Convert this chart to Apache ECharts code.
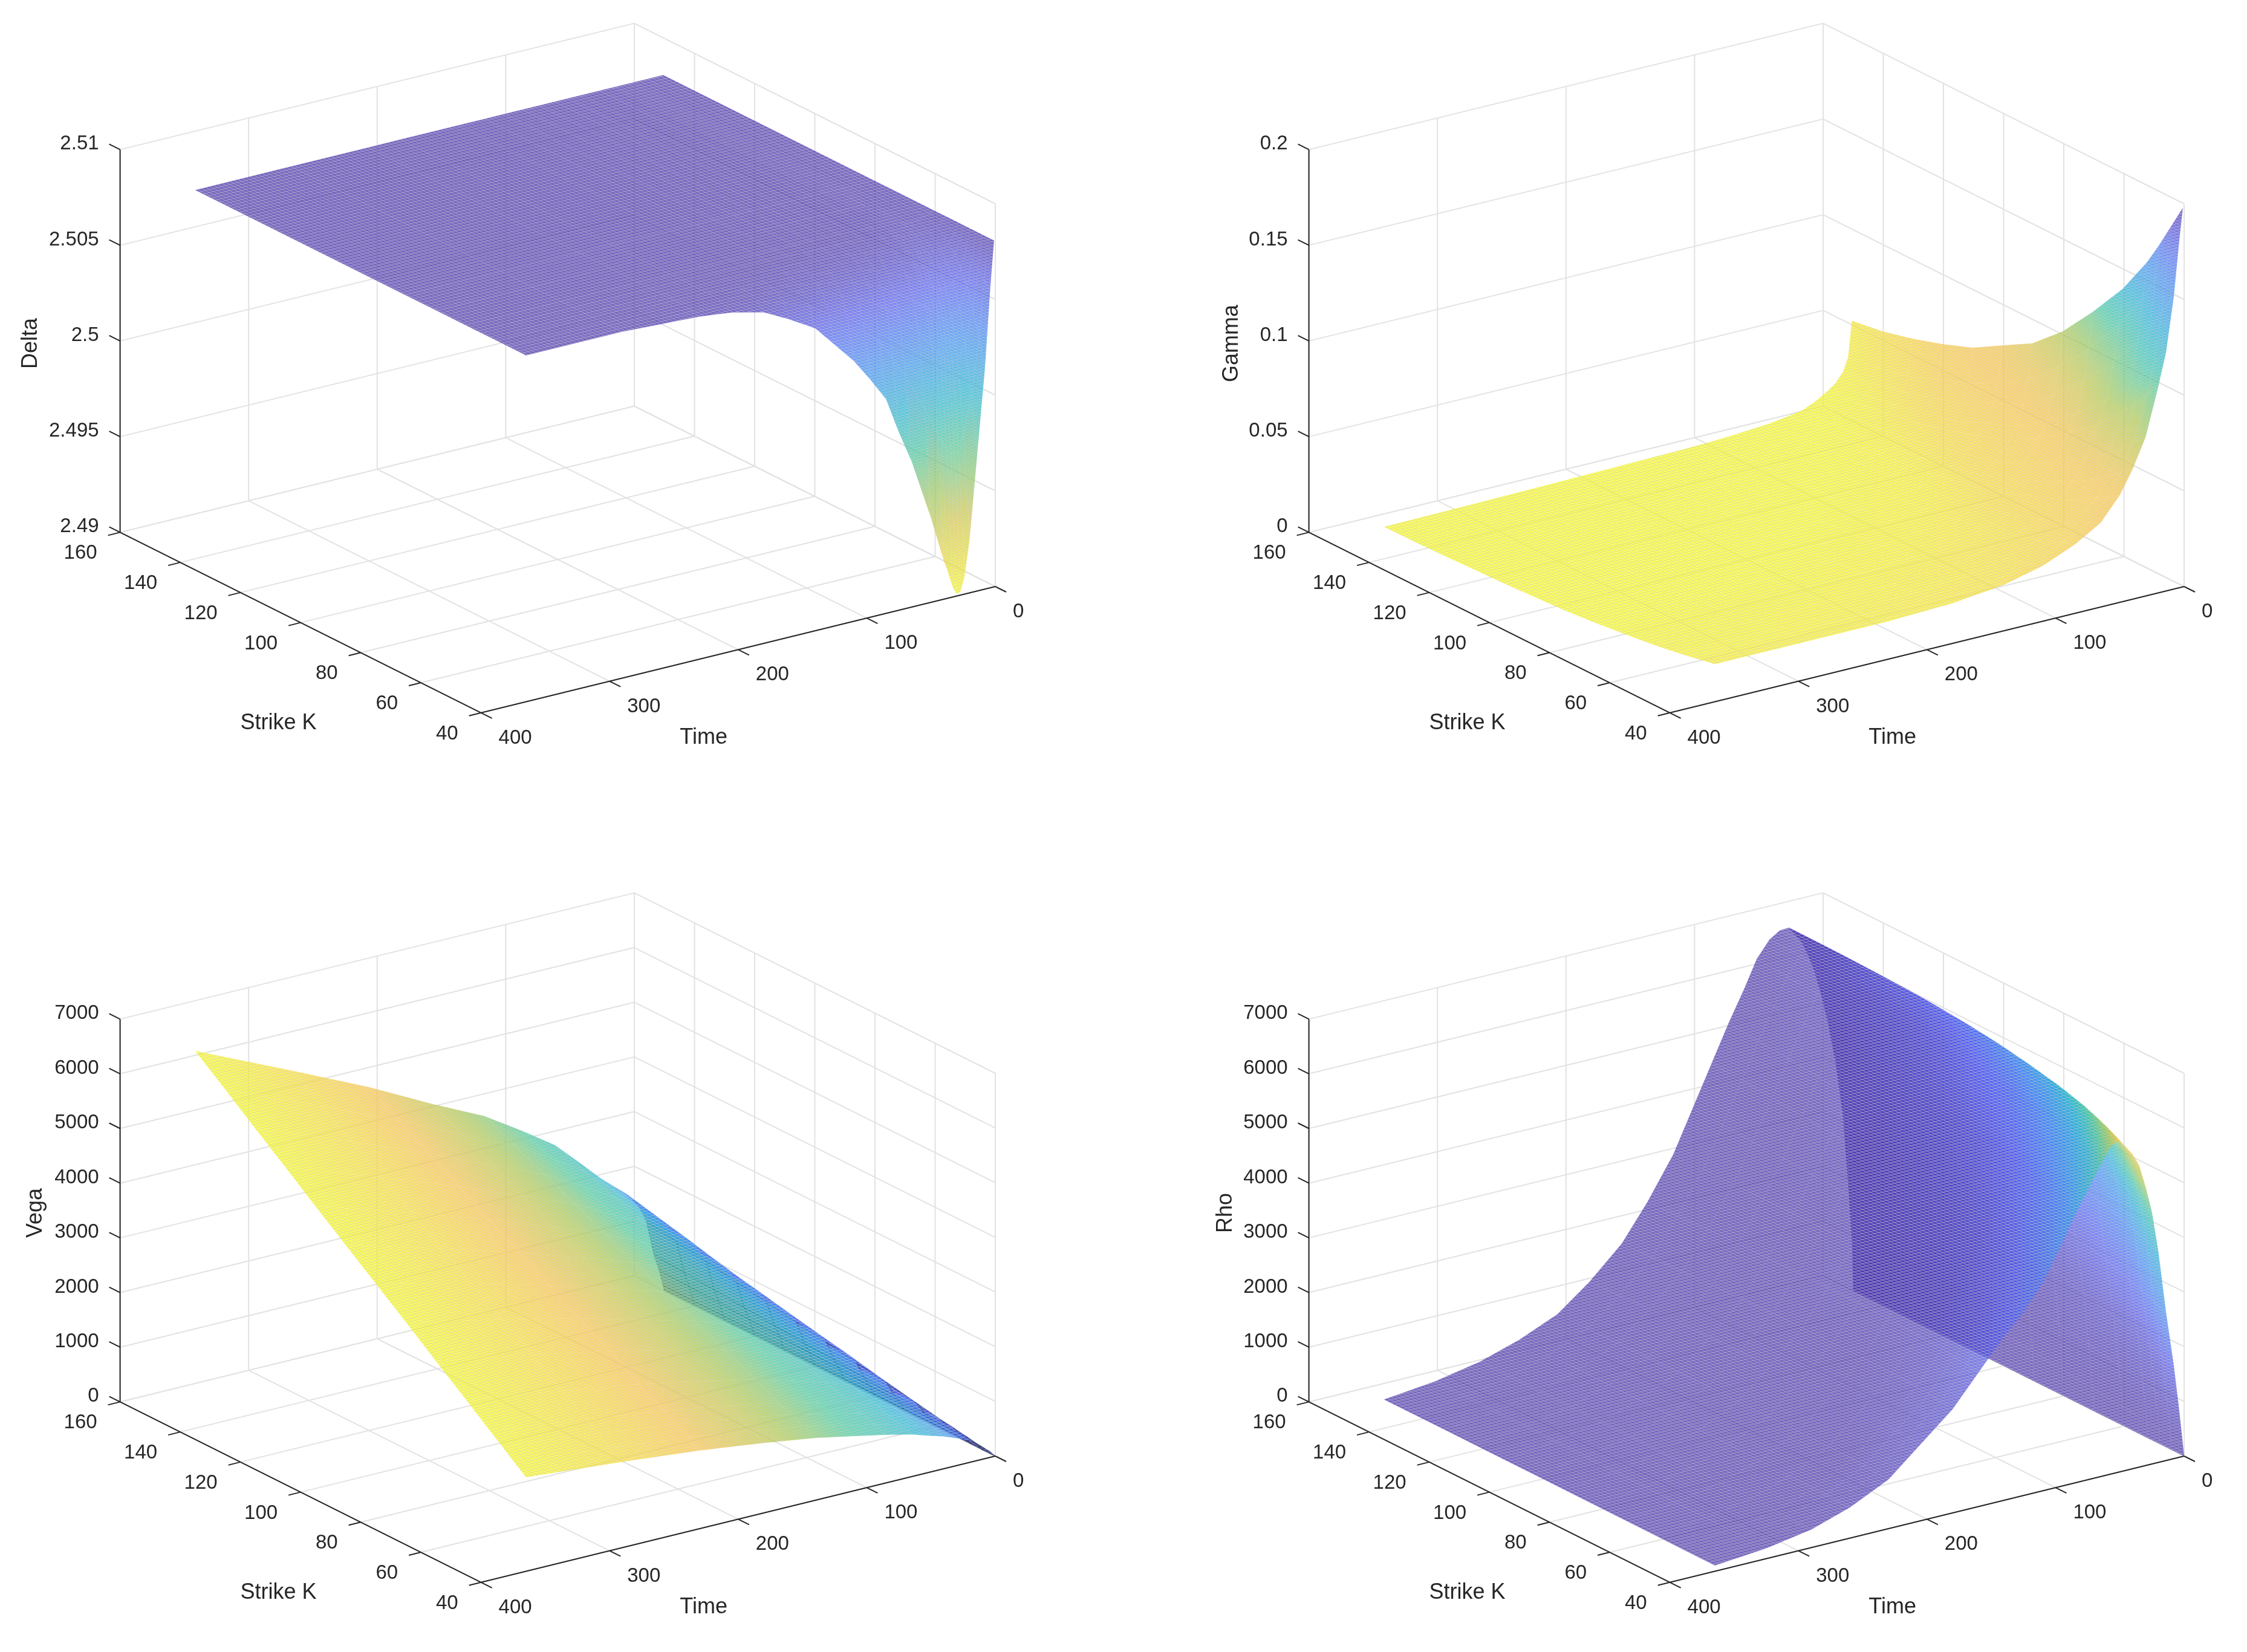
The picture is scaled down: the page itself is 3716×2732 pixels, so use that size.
<!DOCTYPE html>
<html>
<head>
<meta charset="utf-8">
<title>Option Greeks</title>
<script src="https://cdn.jsdelivr.net/npm/echarts@6/dist/echarts.min.js"></script>
<style>
  html, body { margin: 0; background: #fff; }
  #chart { width: 3716px; height: 2732px; }
</style>
</head>
<body>
<div id="chart"></div>
<script>
// sampling of the surfaces
const timeSamples = [1, 4, 8, 14, 20, 30, 40, 50, 65, 85, 110, 140, 180, 230, 290, 365];
const vegaTimes = [0, 1, 4, 8, 14, 20, 30, 40, 50, 65, 85, 110, 140, 180, 230, 290, 365];
const rhoTimes = [0, 1, 4, 8, 14, 20, 25, 30, 35, 40, 50, 57, 65, 75, 85, 97, 110, 125, 140, 160, 180, 205, 230, 260, 290, 325, 365];
const deltaTimes = [1, 4, 8, 14, 20, 24, 27, 30, 33, 37, 40, 50, 65, 75, 85, 97, 110, 125, 140, 160, 180, 205, 230, 290, 365];
const strikeSamples = [40, 44, 48, 52, 60, 70, 80, 90, 100, 110, 120, 130, 140, 150];
const deltaStrikes = [40, 42, 44, 46, 48, 50, 52, 56, 60, 70, 80, 150];

// tick labels
const timeTicks = [0, 100, 200, 300, 400];
const strikeTicks = [40, 60, 80, 100, 120, 140, 160];
const deltaTicks = [2.49, 2.495, 2.5, 2.505, 2.51];
const gammaTicks = [0, 0.05, 0.1, 0.15, 0.2];
const vegaTicks = [0, 1000, 2000, 3000, 4000, 5000, 6000, 7000];
const rhoTicks = [0, 1000, 2000, 3000, 4000, 5000, 6000, 7000];

// one row per strike, one column per time
const deltaValues = [
  [2.5081, 2.5056, 2.5016, 2.4972, 2.4928, 2.4909, 2.4902, 2.4901, 2.4905, 2.4914, 2.4920, 2.4944, 2.4976, 2.4993, 2.5012, 2.5024, 2.5036, 2.5047, 2.5058, 2.5066, 2.5073, 2.5077, 2.5079, 2.5081, 2.5081],
  [2.5081, 2.5059, 2.5029, 2.5001, 2.4981, 2.4975, 2.4973, 2.4973, 2.4975, 2.4981, 2.4985, 2.4999, 2.5019, 2.5030, 2.5040, 2.5048, 2.5055, 2.5062, 2.5068, 2.5073, 2.5077, 2.5079, 2.5080, 2.5081, 2.5081],
  [2.5081, 2.5063, 2.5043, 2.5026, 2.5019, 2.5018, 2.5019, 2.5021, 2.5023, 2.5027, 2.5029, 2.5037, 2.5048, 2.5054, 2.5059, 2.5063, 2.5067, 2.5071, 2.5074, 2.5077, 2.5079, 2.5080, 2.5080, 2.5081, 2.5081],
  [2.5081, 2.5067, 2.5053, 2.5043, 2.5039, 2.5039, 2.5040, 2.5041, 2.5043, 2.5046, 2.5048, 2.5053, 2.5060, 2.5064, 2.5067, 2.5070, 2.5072, 2.5074, 2.5076, 2.5078, 2.5080, 2.5081, 2.5081, 2.5081, 2.5081],
  [2.5081, 2.5071, 2.5061, 2.5055, 2.5053, 2.5053, 2.5054, 2.5055, 2.5056, 2.5058, 2.5060, 2.5064, 2.5068, 2.5071, 2.5073, 2.5075, 2.5076, 2.5077, 2.5078, 2.5079, 2.5080, 2.5081, 2.5081, 2.5081, 2.5081],
  [2.5081, 2.5074, 2.5067, 2.5063, 2.5062, 2.5063, 2.5064, 2.5064, 2.5065, 2.5066, 2.5067, 2.5070, 2.5073, 2.5075, 2.5076, 2.5077, 2.5078, 2.5078, 2.5079, 2.5080, 2.5081, 2.5081, 2.5081, 2.5081, 2.5081],
  [2.5081, 2.5076, 2.5071, 2.5069, 2.5069, 2.5069, 2.5070, 2.5070, 2.5071, 2.5071, 2.5072, 2.5074, 2.5076, 2.5077, 2.5078, 2.5079, 2.5079, 2.5080, 2.5080, 2.5081, 2.5081, 2.5081, 2.5081, 2.5081, 2.5081],
  [2.5081, 2.5079, 2.5077, 2.5075, 2.5075, 2.5075, 2.5076, 2.5076, 2.5076, 2.5077, 2.5077, 2.5078, 2.5079, 2.5080, 2.5080, 2.5080, 2.5080, 2.5081, 2.5081, 2.5081, 2.5081, 2.5081, 2.5081, 2.5081, 2.5081],
  [2.5081, 2.5080, 2.5079, 2.5078, 2.5078, 2.5078, 2.5079, 2.5079, 2.5079, 2.5079, 2.5079, 2.5080, 2.5080, 2.5081, 2.5081, 2.5081, 2.5081, 2.5081, 2.5081, 2.5081, 2.5081, 2.5081, 2.5081, 2.5081, 2.5081],
  [2.5081, 2.5081, 2.5080, 2.5080, 2.5080, 2.5080, 2.5080, 2.5080, 2.5081, 2.5081, 2.5081, 2.5081, 2.5081, 2.5081, 2.5081, 2.5081, 2.5081, 2.5081, 2.5081, 2.5081, 2.5081, 2.5081, 2.5081, 2.5081, 2.5081],
  [2.5081, 2.5081, 2.5081, 2.5081, 2.5081, 2.5081, 2.5081, 2.5081, 2.5081, 2.5081, 2.5081, 2.5081, 2.5081, 2.5081, 2.5081, 2.5081, 2.5081, 2.5081, 2.5081, 2.5081, 2.5081, 2.5081, 2.5081, 2.5081, 2.5081],
  [2.5081, 2.5081, 2.5081, 2.5081, 2.5081, 2.5081, 2.5081, 2.5081, 2.5081, 2.5081, 2.5081, 2.5081, 2.5081, 2.5081, 2.5081, 2.5081, 2.5081, 2.5081, 2.5081, 2.5081, 2.5081, 2.5081, 2.5081, 2.5081, 2.5081]
];
const gammaValues = [
  [.198, .18, .153, .125, .108, .083, .068, .056, .044, .036, .029, .024, .021, .0198, .0197, .0197],
  [.185, .167, .142, .116, .1, .077, .063, .052, .041, .034, .027, .0225, .0197, .0186, .0184, .0184],
  [.172, .154, .13, .106, .092, .071, .058, .048, .038, .031, .025, .021, .0184, .0173, .0171, .0171],
  [.16, .142, .12, .098, .085, .065, .053, .044, .035, .029, .0234, .0196, .0172, .0162, .016, .0159],
  [.14, .122, .103, .084, .072, .056, .046, .038, .03, .025, .0204, .0172, .0152, .0143, .014, .0138],
  [.12, .101, .085, .069, .06, .046, .038, .032, .0254, .021, .0174, .0148, .0132, .0123, .012, .0118],
  [.102, .084, .07, .057, .049, .038, .031, .026, .021, .0178, .015, .0128, .0114, .0107, .0103, .01],
  [.088, .069, .057, .047, .04, .031, .0254, .022, .0178, .015, .0127, .0111, .01, .0093, .0089, .0085],
  [.079, .06, .05, .0405, .035, .027, .022, .019, .0157, .0135, .0114, .01, .0091, .0085, .008, .0076],
  [.07, .052, .042, .034, .0297, .023, .0187, .0164, .0136, .0118, .01, .009, .0082, .0077, .0072, .0068],
  [.064, .046, .037, .03, .026, .02, .0165, .0146, .0123, .0107, .0092, .0084, .0077, .0071, .0066, .0062],
  [.059, .04, .0325, .0265, .023, .018, .0145, .013, .011, .0097, .0084, .0077, .0071, .0066, .0061, .0056],
  [.055, .0365, .029, .024, .0205, .016, .013, .0118, .01, .009, .0079, .0073, .0067, .0062, .0057, .0052],
  [.0526, .034, .027, .022, .019, .015, .012, .011, .0095, .0085, .0075, .007, .0065, .006, .0055, .005]
];
const vegaValues = [
  [0, 20, 100, 180, 300, 400, 500, 590, 660, 770, 880, 1000, 1140, 1280, 1430, 1570, 1720],
  [0, 20, 110, 200, 340, 450, 550, 650, 720, 840, 960, 1090, 1240, 1390, 1560, 1720, 1890],
  [0, 30, 120, 220, 380, 490, 610, 700, 780, 910, 1050, 1190, 1350, 1510, 1690, 1870, 2070],
  [0, 30, 130, 240, 410, 540, 660, 760, 840, 980, 1130, 1280, 1450, 1630, 1830, 2020, 2240],
  [0, 40, 160, 280, 490, 630, 760, 870, 970, 1120, 1290, 1460, 1660, 1860, 2090, 2320, 2590],
  [0, 40, 180, 320, 590, 740, 900, 1020, 1120, 1300, 1500, 1700, 1920, 2150, 2420, 2700, 3020],
  [0, 50, 210, 370, 680, 860, 1030, 1160, 1280, 1470, 1710, 1930, 2180, 2430, 2750, 3070, 3460],
  [0, 60, 240, 420, 780, 970, 1160, 1300, 1430, 1650, 1910, 2160, 2440, 2720, 3080, 3450, 3890],
  [0, 60, 260, 460, 870, 1080, 1290, 1440, 1580, 1820, 2120, 2390, 2700, 3010, 3400, 3820, 4320],
  [0, 70, 290, 510, 970, 1200, 1420, 1580, 1740, 2000, 2320, 2620, 2960, 3300, 3730, 4200, 4750],
  [0, 80, 320, 560, 1060, 1310, 1550, 1720, 1890, 2170, 2530, 2850, 3220, 3590, 4060, 4570, 5190],
  [0, 90, 350, 610, 1160, 1420, 1690, 1870, 2040, 2350, 2740, 3090, 3480, 3870, 4390, 4950, 5620],
  [0, 90, 370, 650, 1250, 1540, 1820, 2010, 2200, 2520, 2940, 3320, 3740, 4160, 4720, 5320, 6060],
  [0, 100, 400, 700, 1350, 1650, 1950, 2150, 2350, 2700, 3150, 3550, 4000, 4450, 5050, 5700, 6490]
];
const rhoValues = [
  [0, 230, 900, 1700, 2700, 3850, 4600, 5100, 5520, 5750, 6060, 6000, 5700, 5300, 4900, 4350, 3800, 3350, 3000, 2450, 1900, 1400, 900, 560, 330, 190, 105],
  [0, 250, 950, 1780, 2790, 3940, 4700, 5210, 5630, 5870, 6180, 6120, 5820, 5420, 5010, 4450, 3890, 3420, 3050, 2490, 1930, 1420, 920, 570, 330, 190, 105],
  [0, 280, 1000, 1850, 2880, 4030, 4790, 5300, 5720, 5960, 6280, 6220, 5930, 5530, 5110, 4540, 3970, 3490, 3100, 2520, 1950, 1430, 930, 580, 340, 195, 107],
  [0, 310, 1050, 1920, 2960, 4110, 4870, 5380, 5800, 6050, 6370, 6310, 6020, 5620, 5190, 4620, 4040, 3540, 3140, 2550, 1980, 1450, 940, 580, 340, 197, 108],
  [0, 360, 1130, 2050, 3110, 4240, 4990, 5500, 5920, 6180, 6500, 6450, 6160, 5760, 5320, 4750, 4150, 3630, 3200, 2580, 2000, 1460, 950, 590, 350, 200, 110],
  [0, 420, 1240, 2200, 3270, 4380, 5100, 5620, 6040, 6290, 6620, 6570, 6300, 5900, 5460, 4880, 4270, 3710, 3240, 2610, 2010, 1460, 950, 600, 360, 205, 113],
  [0, 480, 1340, 2350, 3420, 4500, 5210, 5720, 6130, 6380, 6720, 6670, 6420, 6030, 5580, 4990, 4380, 3790, 3280, 2630, 2010, 1460, 950, 610, 360, 210, 114],
  [0, 540, 1450, 2490, 3570, 4600, 5290, 5790, 6190, 6450, 6790, 6750, 6510, 6140, 5670, 5090, 4460, 3850, 3300, 2630, 2010, 1460, 950, 610, 370, 210, 115],
  [0, 600, 1540, 2620, 3700, 4690, 5350, 5850, 6240, 6510, 6840, 6810, 6590, 6220, 5750, 5160, 4540, 3900, 3320, 2630, 2000, 1440, 950, 610, 380, 220, 116],
  [0, 670, 1640, 2760, 3830, 4780, 5410, 5900, 6270, 6540, 6880, 6850, 6650, 6300, 5810, 5240, 4600, 3940, 3320, 2620, 1990, 1430, 940, 610, 380, 220, 117],
  [0, 730, 1730, 2880, 3950, 4850, 5450, 5930, 6290, 6560, 6900, 6880, 6690, 6350, 5870, 5290, 4660, 3970, 3320, 2610, 1970, 1410, 930, 610, 380, 220, 117],
  [0, 780, 1830, 3010, 4070, 4920, 5490, 5960, 6310, 6580, 6915, 6895, 6740, 6410, 5920, 5350, 4710, 4000, 3310, 2590, 1940, 1400, 920, 610, 380, 220, 118],
  [0, 850, 1910, 3130, 4180, 4990, 5530, 5980, 6320, 6590, 6925, 6910, 6770, 6450, 5960, 5400, 4760, 4020, 3310, 2570, 1930, 1370, 910, 600, 380, 220, 118],
  [0, 900, 2000, 3250, 4300, 5050, 5560, 6000, 6330, 6600, 6930, 6920, 6800, 6500, 6000, 5450, 4800, 4050, 3300, 2550, 1900, 1350, 900, 600, 380, 220, 115]
];

// colour index into the colormap stops (0 = violet, 7 = yellow), one row per strike, one column per timeSamples entry
const gammaColor = [
  [0, 1, 2, 3, 4, 5, 5.7, 6, 6, 6.2, 6.3, 6.5, 6.7, 6.8, 6.8, 6.8],
  [.7, 1.5, 2.5, 3.5, 4.5, 5.3, 5.8, 6, 6.1, 6.3, 6.4, 6.6, 6.7, 6.8, 6.8, 6.8],
  [1.5, 2.2, 3, 4, 4.8, 5.5, 5.9, 6.1, 6.2, 6.3, 6.5, 6.6, 6.7, 6.8, 6.9, 6.9],
  [2, 2.8, 3.6, 4.4, 5, 5.7, 6, 6.1, 6.2, 6.4, 6.5, 6.7, 6.8, 6.8, 6.9, 6.9],
  [3, 3.8, 4.5, 5, 5.5, 5.9, 6.1, 6.2, 6.3, 6.5, 6.6, 6.7, 6.8, 6.9, 6.9, 6.9],
  [4.2, 4.8, 5.3, 5.7, 5.9, 6.1, 6.2, 6.3, 6.4, 6.6, 6.7, 6.8, 6.9, 6.9, 6.9, 7],
  [5, 5.5, 5.8, 6, 6.1, 6.2, 6.3, 6.4, 6.5, 6.7, 6.8, 6.9, 6.9, 7, 7, 7],
  [5.6, 5.9, 6, 6.1, 6.2, 6.3, 6.4, 6.5, 6.7, 6.8, 6.9, 6.9, 7, 7, 7, 7],
  [5.9, 6, 6.1, 6.2, 6.3, 6.4, 6.5, 6.7, 6.8, 6.9, 6.9, 7, 7, 7, 7, 7],
  [6, 6.1, 6.2, 6.3, 6.4, 6.5, 6.7, 6.8, 6.9, 6.9, 7, 7, 7, 7, 7, 7],
  [6.1, 6.2, 6.3, 6.4, 6.5, 6.7, 6.8, 6.9, 6.9, 7, 7, 7, 7, 7, 7, 7],
  [6.3, 6.4, 6.5, 6.6, 6.7, 6.8, 6.9, 6.9, 7, 7, 7, 7, 7, 7, 7, 7],
  [6.5, 6.6, 6.7, 6.8, 6.9, 6.9, 7, 7, 7, 7, 7, 7, 7, 7, 7, 7],
  [6.8, 6.8, 6.9, 6.9, 7, 7, 7, 7, 7, 7, 7, 7, 7, 7, 7, 7]
];
const rhoColor = [
  [0, .4, 1, 2, 3, 5, 6.5, 6, 4, 2.5, 1.5, 1, .5, .2, 0, 0],
  [0, .3, .8, 1.6, 2.6, 4.3, 5.5, 5.2, 3.3, 2, 1.3, .8, .4, .1, 0, 0],
  [0, .2, .6, 1.3, 2.2, 3.5, 4.5, 4.4, 2.8, 1.7, 1.1, .6, .3, .1, 0, 0],
  [0, .2, .5, 1.1, 1.8, 3, 3.8, 3.8, 2.4, 1.4, .9, .5, .2, 0, 0, 0],
  [0, .1, .4, .9, 1.5, 2.3, 2.9, 2.9, 1.8, 1, .6, .3, .1, 0, 0, 0],
  [0, .1, .3, .7, 1.2, 1.8, 2.2, 2.2, 1.3, .7, .4, .2, 0, 0, 0, 0],
  [0, .1, .2, .6, 1, 1.5, 1.8, 1.7, 1, .5, .3, .1, 0, 0, 0, 0],
  [0, 0, .2, .5, .8, 1.2, 1.4, 1.3, .7, .4, .2, .1, 0, 0, 0, 0],
  [0, 0, .1, .4, .7, 1, 1.1, 1, .5, .3, .1, 0, 0, 0, 0, 0],
  [0, 0, .1, .3, .5, .8, .9, .8, .4, .2, .1, 0, 0, 0, 0, 0],
  [0, 0, .1, .2, .4, .6, .7, .6, .3, .1, 0, 0, 0, 0, 0, 0],
  [0, 0, 0, .1, .3, .4, .5, .4, .2, .1, 0, 0, 0, 0, 0, 0],
  [0, 0, 0, .1, .2, .3, .3, .2, .1, 0, 0, 0, 0, 0, 0, 0],
  [0, 0, 0, 0, .1, .2, .2, .1, 0, 0, 0, 0, 0, 0, 0, 0]
];
// vega is coloured along time only
const vegaColorByTime = [0, .2, .5, .9, 1.3, 1.9, 2.4, 2.8, 3.2, 3.6, 4, 4.6, 5.3, 6, 6.5, 7];

const colorStops = [
  [62, 38, 168], [72, 82, 244], [46, 135, 247], [18, 177, 214],
  [55, 200, 151], [171, 199, 57], [254, 195, 56], [249, 251, 21]
];

// screen vectors of the 3d box, in px
const timeVec = [-850.4, 208.8];
const strikeVec = [-597, -298.4];
const zHeight = 633;
const faceAlpha = 0.7;
const inkColor = '#262626';
const gridColor = '#e2e2e2';
const fontFamily = '"Liberation Sans", Arial, sans-serif';

// colour index at time t, from a row given on timeSamples
function colorAtTime(row, t) {
  if (t <= timeSamples[0]) return row[0];
  let n = 1;
  while (timeSamples[n] < t) n++;
  const f = (t - timeSamples[n - 1]) / (timeSamples[n] - timeSamples[n - 1]);
  return row[n - 1] + (row[n] - row[n - 1]) * f;
}

const panels = [
  { name: 'Delta', left: 0, top: 10, ticks: deltaTicks, times: deltaTimes, strikes: deltaStrikes, values: deltaValues, titleX: 51,
    color: (i, j) => (2.5081 - deltaValues[i][j]) / 0.018 * 7 },
  { name: 'Gamma', left: 1966, top: 10, ticks: gammaTicks, times: timeSamples, strikes: strikeSamples, values: gammaValues, titleX: 71,
    color: (i, j) => gammaColor[i][j] },
  // the steep early part of vega folds over and shows on top, with its wires packed dark
  { name: 'Vega', left: 0, top: 1448, ticks: vegaTicks, times: vegaTimes, strikes: strikeSamples, values: vegaValues, titleX: 59, foldOnTop: true, foldTime: 14,
    color: (i, j) => colorAtTime(vegaColorByTime, vegaTimes[j]) },
  { name: 'Rho', left: 1966, top: 1448, ticks: rhoTicks, times: rhoTimes, strikes: strikeSamples, values: rhoValues, titleX: 61,
    color: (i, j) => colorAtTime(rhoColor[i], rhoTimes[j]) }
];

// plot units of the hidden axes are px, origin at the corner time 0 / strike 40 / lowest z
const uMin = -1646, uMax = 100, vMin = -960, vMax = 300;

function project(panel, t, k, z) {
  const lo = panel.ticks[0];
  const hi = panel.ticks[panel.ticks.length - 1];
  const zn = (z - lo) / (hi - lo);
  return [
    timeVec[0] * t / 400 + strikeVec[0] * (k - 40) / 120,
    timeVec[1] * t / 400 + strikeVec[1] * (k - 40) / 120 - zn * zHeight
  ];
}

function faceColor(c) {
  const x = Math.max(0, Math.min(7, c));
  const a = Math.min(6, Math.floor(x));
  const f = x - a;
  const rgb = colorStops[a].map((v, n) => Math.round(v + (colorStops[a + 1][n] - v) * f));
  return 'rgba(' + rgb.join(',') + ',' + faceAlpha + ')';
}

// shade a face along the steepest colour change of its four corners
function cellFill(pts, cs) {
  const lo = Math.min(...cs);
  const hi = Math.max(...cs);
  const mean = (cs[0] + cs[1] + cs[2] + cs[3]) / 4;
  if (hi - lo < 0.02) return faceColor(mean);
  const dx1 = pts[2][0] - pts[0][0], dy1 = pts[2][1] - pts[0][1];
  const dx2 = pts[3][0] - pts[1][0], dy2 = pts[3][1] - pts[1][1];
  const dc1 = cs[2] - cs[0], dc2 = cs[3] - cs[1];
  const det = dx1 * dy2 - dx2 * dy1;
  if (Math.abs(det) < 1) return faceColor(mean);
  const a = (dc1 * dy2 - dc2 * dy1) / det;
  const b = (dx1 * dc2 - dx2 * dc1) / det;
  const n = a * a + b * b;
  if (n < 1e-9) return faceColor(mean);
  const cx = (pts[0][0] + pts[1][0] + pts[2][0] + pts[3][0]) / 4;
  const cy = (pts[0][1] + pts[1][1] + pts[2][1] + pts[3][1]) / 4;
  return new echarts.graphic.LinearGradient(
    cx + a * (lo - mean) / n, cy + b * (lo - mean) / n,
    cx + a * (hi - mean) / n, cy + b * (hi - mean) / n,
    [
      { offset: 0, color: faceColor(lo) },
      { offset: 0.5, color: faceColor((lo + hi) / 2) },
      { offset: 1, color: faceColor(hi) }
    ],
    true
  );
}

// fine wire texture laid over the faces, running along the two floor directions
function meshTile() {
  const tile = document.createElement('canvas');
  tile.width = 40;
  tile.height = 20;
  const ctx = tile.getContext('2d');
  ctx.strokeStyle = 'rgba(205,205,205,0.5)';
  ctx.lineWidth = 1;
  for (let y = -40; y < 40; y += 5) {
    ctx.beginPath(); ctx.moveTo(0, y); ctx.lineTo(40, y + 20); ctx.stroke();
    ctx.beginPath(); ctx.moveTo(0, y); ctx.lineTo(40, y - 10); ctx.stroke();
  }
  return tile;
}
const meshPattern = { image: meshTile(), repeat: 'repeat' };

function surfaceSeries(panel, index) {
  const cells = [];
  const last = panel.times.length - 2;
  // far cells first so that the see-through faces stack in the right order
  for (let i = panel.strikes.length - 2; i >= 0; i--) {
    for (let n = 0; n <= last; n++) cells.push([i, panel.foldOnTop ? last - n : n]);
  }
  return {
    type: 'custom',
    name: panel.name,
    coordinateSystem: 'cartesian2d',
    xAxisIndex: index,
    yAxisIndex: index,
    clip: false,
    silent: true,
    animation: false,
    progressive: 0,
    z: 2,
    data: cells,
    renderItem: function (params, api) {
      const i = api.value(0);
      const j = api.value(1);
      const corners = [[i, j], [i + 1, j], [i + 1, j + 1], [i, j + 1]];
      const points = corners.map(c => api.coord(project(panel, panel.times[c[1]], panel.strikes[c[0]], panel.values[c[0]][c[1]])));
      const shades = corners.map(c => panel.color(c[0], c[1]));
      const fold = panel.foldTime !== undefined && panel.times[j] < panel.foldTime;
      return {
        type: 'group',
        children: [
          { type: 'polygon', shape: { points: points }, style: { fill: cellFill(points, shades), stroke: fold ? 'rgba(20,40,80,0.5)' : null, lineWidth: fold ? 1.5 : 0 } },
          { type: 'polygon', shape: { points: points }, style: { fill: meshPattern } }
        ]
      };
    }
  };
}

function frameSeries(panel, index, layer) {
  return {
    type: 'custom',
    coordinateSystem: 'cartesian2d',
    xAxisIndex: index,
    yAxisIndex: index,
    clip: false,
    silent: true,
    animation: false,
    z: layer === 'walls' ? 1 : 3,
    data: [[0, 0]],
    renderItem: function (params, api) {
      const children = [];
      const zLo = panel.ticks[0];
      const zHi = panel.ticks[panel.ticks.length - 1];
      const line = (a, b, color, width) => {
        const p = api.coord(a);
        const q = api.coord(b);
        children.push({ type: 'line', shape: { x1: p[0], y1: p[1], x2: q[0], y2: q[1] }, style: { stroke: color, lineWidth: width } });
      };
      const label = (text, at, dx, dy, align, size) => {
        const p = api.coord(at);
        children.push({
          type: 'text',
          x: p[0] + dx,
          y: p[1] + dy,
          style: { text: String(text), fill: inkColor, fontSize: size, fontFamily: fontFamily, align: align, verticalAlign: 'middle' }
        });
      };
      const P = (t, k, z) => project(panel, t, k, z);
      if (layer === 'walls') {
        timeTicks.forEach(t => {
          line(P(t, 160, zLo), P(t, 160, zHi), gridColor, 2);
          line(P(t, 40, zLo), P(t, 160, zLo), gridColor, 2);
        });
        strikeTicks.forEach(k => {
          line(P(0, k, zLo), P(0, k, zHi), gridColor, 2);
          line(P(0, k, zLo), P(400, k, zLo), gridColor, 2);
        });
        panel.ticks.forEach(z => {
          line(P(400, 160, z), P(0, 160, z), gridColor, 2);
          line(P(0, 160, z), P(0, 40, z), gridColor, 2);
        });
      } else {
        line(P(400, 160, zLo), P(400, 160, zHi), inkColor, 2);
        line(P(400, 160, zLo), P(400, 40, zLo), inkColor, 2);
        line(P(400, 40, zLo), P(0, 40, zLo), inkColor, 2);
        panel.ticks.forEach(z => {
          const a = P(400, 160, z);
          line(a, [a[0] - 18, a[1] - 9], inkColor, 2);
          label(z, a, -35, -9, 'right', 33);
        });
        strikeTicks.forEach(k => {
          const a = P(400, k, zLo);
          line(a, [a[0] - 20, a[1] + 5], inkColor, 2);
          label(k, a, -38, 35, 'right', 33);
        });
        timeTicks.forEach(t => {
          const a = P(t, 40, zLo);
          line(a, [a[0] + 18, a[1] + 9], inkColor, 2);
          label(t, a, 29, 42, 'left', 33);
        });
        const corner = P(400, 160, zLo);
        label('Strike K', corner, 262, 316, 'center', 36);
        const front = P(400, 40, zLo);
        label('Time', front, 368, 41, 'center', 36);
        children.push({
          type: 'text',
          x: api.coord([panel.titleX + uMin, 0])[0],
          y: api.coord([0, -402])[1],
          rotation: Math.PI / 2,
          style: { text: panel.name, fill: inkColor, fontSize: 36, fontFamily: fontFamily, align: 'center', verticalAlign: 'middle' }
        });
      }
      return { type: 'group', children: children };
    }
  };
}

const chart = echarts.init(document.getElementById('chart'), null, { renderer: 'canvas' });
const option = {
  backgroundColor: '#ffffff',
  animation: false,
  grid: panels.map(p => ({ left: p.left, top: p.top, width: uMax - uMin, height: vMax - vMin })),
  xAxis: panels.map((p, i) => ({ type: 'value', gridIndex: i, min: uMin, max: uMax, show: false })),
  yAxis: panels.map((p, i) => ({ type: 'value', gridIndex: i, min: vMin, max: vMax, inverse: true, show: false })),
  series: panels.flatMap((p, i) => [frameSeries(p, i, 'walls'), surfaceSeries(p, i), frameSeries(p, i, 'axes')])
};
chart.setOption(option);
</script>
</body>
</html>
